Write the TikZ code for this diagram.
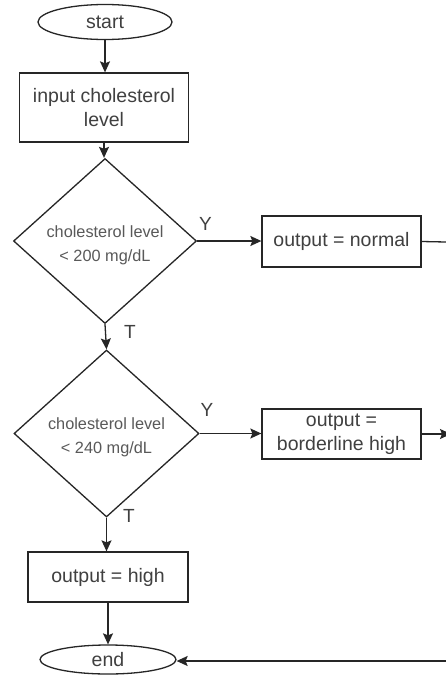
\documentclass[tikz,border=0pt]{standalone}
\usepackage{fontspec}
\setmainfont{Liberation Sans}
\usetikzlibrary{shapes.geometric,arrows.meta}
\begin{document}
\begin{tikzpicture}[x=1pt,y=-1pt,
  line width=1.3pt,
  every node/.style={text=black!75},
  term/.style={draw=black!85,ellipse,inner sep=0pt,font=\fontsize{19.5}{23.5}\selectfont},
  procbox/.style={draw=black!85,rectangle,inner sep=0pt,align=center,font=\fontsize{19.5}{23.5}\selectfont},
  decision/.style={draw=black!85,diamond,inner sep=0pt},
  dtext/.style={align=center,font=\fontsize{16.3}{24}\selectfont,text=black!65},
  lbl/.style={font=\fontsize{19}{22}\selectfont,inner sep=0pt},
  arr/.style={draw=black!85,-{Stealth[length=11pt,width=10pt,inset=2pt]}},
  ln/.style={draw=black!85}]
\useasboundingbox (0,0) rectangle (446,675);
\fill[white] (0,0) rectangle (446,675);

\node[term,minimum width=134pt,minimum height=35pt] (start) at (105,22) {start};
\node[procbox,minimum width=169pt,minimum height=69pt] (input) at (104,107.5) {input cholesterol\\level};
\node[decision,minimum width=183pt,minimum height=165pt] (d1) at (105,241) {};
\node[dtext] (d1t) at (105,245) {cholesterol level\\< 200 mg/dL};
\node[procbox,minimum width=159pt,minimum height=51pt] (normal) at (341.5,241.5) {output = normal};
\node[decision,minimum width=185pt,minimum height=167pt] (d2) at (106.5,433.5) {};
\node[dtext] (d2t) at (106.5,437) {cholesterol level\\< 240 mg/dL};
\node[procbox,minimum width=159pt,minimum height=50pt] (border) at (341.5,434) {output =\\borderline high};
\node[procbox,minimum width=160pt,minimum height=50pt] (high) at (108,577) {output = high};
\node[term,minimum width=136pt,minimum height=29pt] (end) at (108,659.5) {end};

\node[lbl] (y1) at (205.5,223.5) {Y};
\node[lbl] (t1) at (130,332) {T};
\node[lbl] (y2) at (207,409.5) {Y};
\node[lbl] (t2) at (129,516) {T};

\coordinate (r1) at (446,242);
\coordinate (r2) at (451,434);
\coordinate (r3) at (446,661);

\draw[arr] (start.south) -- (start.south |- input.north);
\draw[arr] (input.south) -- (input.south |- d1.north);
\draw[arr] (d1.east) -- (d1.east -| normal.west);
\draw[ln] (normal.east) -- (r1);
\draw[arr] (d1.south) -- (d2.north);
\draw[arr] (d2.east) -- (d2.east -| border.west);
\draw[arr] (border.east) -- (r2);
\draw[arr] (d2.south) -- (d2.south |- high.north);
\draw[arr] (high.south) -- (high.south |- end.north);
\draw[arr] (r3) -- (r3 -| end.east);
\end{tikzpicture}
\end{document}
